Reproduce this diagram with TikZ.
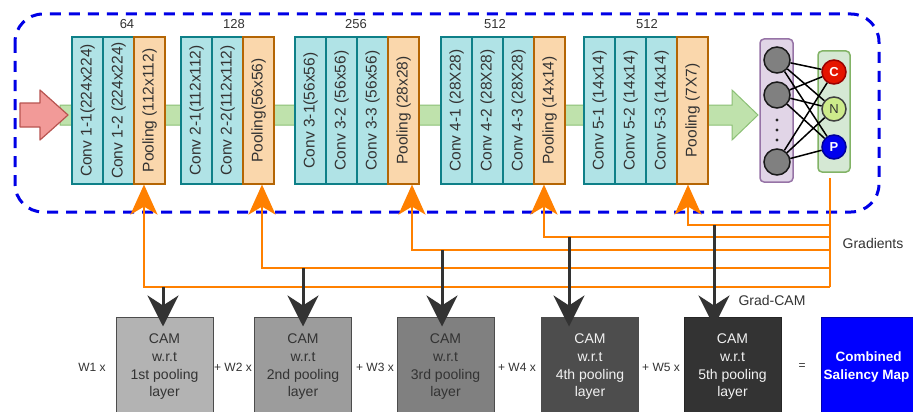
\documentclass[tikz,border=0pt]{standalone}
\usepackage{fontspec}
\setmainfont{Liberation Sans}
\usepackage{graphicx}
\usetikzlibrary{arrows.meta,calc}
\definecolor{convfill}{HTML}{B0E3E6}
\definecolor{convdraw}{HTML}{0E8088}
\definecolor{poolfill}{HTML}{FAD7AC}
\definecolor{pooldraw}{HTML}{B46504}
\definecolor{txt}{HTML}{333333}
\definecolor{gradorange}{HTML}{FF8000}
\definecolor{darkarrow}{HTML}{333333}
\definecolor{dashblue}{HTML}{0000E6}
\definecolor{bandfill}{HTML}{BFE2AC}
\definecolor{banddraw}{HTML}{8CC076}
\definecolor{redfill}{HTML}{F29A98}
\definecolor{reddraw}{HTML}{B85450}
\definecolor{purplefill}{HTML}{E1D5E7}
\definecolor{purpledraw}{HTML}{9673A6}
\definecolor{greenfill}{HTML}{D5E8D4}
\definecolor{greendraw}{HTML}{82B366}
\definecolor{nfill}{HTML}{CDEB8B}
\definecolor{camA}{HTML}{B3B3B3}
\definecolor{camB}{HTML}{9C9C9C}
\definecolor{camC}{HTML}{808080}
\definecolor{camD}{HTML}{4D4D4D}
\definecolor{camE}{HTML}{333333}
\begin{document}
\begin{tikzpicture}[x=1pt,y=-1pt,
  layerbox/.style={draw=convdraw, fill=convfill, line width=1.2pt, minimum width=31pt, minimum height=147pt, inner sep=0pt, text=txt, font=\fontsize{15.5}{15.5}\selectfont},
  poolbox/.style={layerbox, draw=pooldraw, fill=poolfill},
  chanlabel/.style={text=txt, font=\fontsize{13}{13}\selectfont, inner sep=0pt},
  hidnode/.style={circle, draw=black!90, fill=black!50, line width=1.5pt, minimum size=26pt, inner sep=0pt},
  outnode/.style={circle, line width=1.5pt, minimum size=24pt, inner sep=0pt, font=\bfseries\fontsize{13}{13}\selectfont},
  netline/.style={draw=black, line width=1.5pt},
  gradline/.style={draw=gradorange, line width=2pt},
  orangetip/.style={-{Stealth[length=30pt,width=27pt,inset=8pt]}},
  camarrow/.style={draw=darkarrow, line width=3pt, -{Stealth[length=31pt,width=31pt,inset=10pt]}},
  cambox/.style={draw=black!70, line width=1pt, minimum width=97pt, minimum height=100pt, inner sep=0pt, align=center, font=\fontsize{14}{17.7}\selectfont},
  wlabel/.style={text=txt, font=\fontsize{12}{12}\selectfont, inner sep=0pt},
  sidelabel/.style={text=txt, font=\fontsize{14}{14}\selectfont, inner sep=0pt}
]
\clip (0,0) rectangle (913,412);
\fill[white] (0,0) rectangle (913,412);

% dashed frame
\draw[dashblue, line width=3pt, dash pattern=on 11pt off 8pt, rounded corners=28pt] (15,14) rectangle (879,212);

% green flow band with final arrow
\draw[fill=bandfill, draw=banddraw, line width=1pt] (60,105) -- (732,105) -- (732,90) -- (758,115) -- (732,140) -- (732,125) -- (60,125) -- cycle;
% red input arrow
\draw[fill=redfill, draw=reddraw, line width=1.2pt, line join=round] (20,103) -- (40,103) -- (40,90) -- (68,115) -- (40,140) -- (40,127) -- (20,127) -- cycle;

% block 1
\node[layerbox] (c11) at (87.5,110.5) {\rotatebox{90}{Conv 1-1(224x224)}};
\node[layerbox] (c12) at (118.5,110.5) {\rotatebox{90}{Conv 1-2 (224x224)}};
\node[poolbox] (p1) at (149.5,110.5) {\rotatebox{90}{Pooling (112x112)}};
% block 2
\node[layerbox] (c21) at (196.5,110.5) {\rotatebox{90}{Conv 2-1(112x112)}};
\node[layerbox] (c22) at (227.5,110.5) {\rotatebox{90}{Conv 2-2(112x112)}};
\node[poolbox] (p2) at (258.5,110.5) {\rotatebox{90}{Pooling(56x56)}};
% block 3
\node[layerbox] (c31) at (310.5,110.5) {\rotatebox{90}{Conv 3-1(56x56)}};
\node[layerbox] (c32) at (341.5,110.5) {\rotatebox{90}{Conv 3-2 (56x56)}};
\node[layerbox] (c33) at (372.5,110.5) {\rotatebox{90}{Conv 3-3 (56x56)}};
\node[poolbox] (p3) at (403.5,110.5) {\rotatebox{90}{Pooling (28x28)}};
% block 4
\node[layerbox] (c41) at (456.5,110.5) {\rotatebox{90}{Conv 4-1 (28X28)}};
\node[layerbox] (c42) at (487.5,110.5) {\rotatebox{90}{Conv 4-2 (28X28)}};
\node[layerbox] (c43) at (518.5,110.5) {\rotatebox{90}{Conv 4-3 (28X28)}};
\node[poolbox] (p4) at (549.5,110.5) {\rotatebox{90}{Pooling (14x14)}};
% block 5
\node[layerbox] (c51) at (599.5,110.5) {\rotatebox{90}{Conv 5-1 (14x14)}};
\node[layerbox] (c52) at (630.5,110.5) {\rotatebox{90}{Conv 5-2 (14x14)}};
\node[layerbox] (c53) at (661.5,110.5) {\rotatebox{90}{Conv 5-3 (14x14)}};
\node[poolbox] (p5) at (692.5,110.5) {\rotatebox{90}{Pooling (7X7)}};

% channel labels
\node[chanlabel] (l1) at (127,24) {64};
\node[chanlabel] (l2) at (234,24) {128};
\node[chanlabel] (l3) at (356,24) {256};
\node[chanlabel] (l4) at (495,24) {512};
\node[chanlabel] (l5) at (647,24) {512};

% fully connected part
\node[draw=purpledraw, fill=purplefill, line width=1.5pt, rounded corners=4pt, minimum width=33pt, minimum height=143pt, inner sep=0pt] (hidbox) at (776.5,110.5) {};
\node[draw=greendraw, fill=greenfill, line width=1.5pt, rounded corners=4pt, minimum width=32pt, minimum height=121pt, inner sep=0pt] (outbox) at (834,111.5) {};
\node[hidnode] (h1) at (777,60) {};
\node[hidnode] (h2) at (777,95) {};
\node[hidnode] (h3) at (777,162) {};
\fill[black!85] (777,120) circle (1.6pt) (777,130) circle (1.6pt) (777,140) circle (1.6pt);
\node[outnode, draw=red!60!black, fill={rgb,255:red,229;green,20;blue,0}, text=white] (oc) at (834,72) {C};
\node[outnode, draw=black!75, fill=nfill, text=txt, font=\fontsize{13}{13}\selectfont] (on) at (834,109) {N};
\node[outnode, draw=blue!60!black, fill={rgb,255:red,0;green,0;blue,238}, text=white] (op) at (834,147) {P};
\foreach \h in {h1,h2,h3}{\foreach \o in {oc,on,op}{\draw[netline] (\h) -- (\o);}}

% gradient bus
\coordinate (t5) at (830,225);
\coordinate (t4) at (830,237);
\coordinate (t3) at (830,250);
\coordinate (t2) at (830,268);
\coordinate (t1) at (830,287);
\draw[gradline] ($(outbox.south)+(-4,5)$) -- (t1);
\draw[gradline, orangetip] (t1) -| ($(p1.south)+(-5.5,0)$);
\draw[gradline, orangetip] (t2) -| ($(p2.south)+(3.5,0)$);
\draw[gradline, orangetip] (t3) -| ($(p3.south)+(8.5,0)$);
\draw[gradline, orangetip] (t4) -| ($(p4.south)+(-5.5,0)$);
\draw[gradline, orangetip] (t5) -| ($(p5.south)+(-4.5,0)$);

% CAM boxes
\node[cambox, fill=camA, text=txt] (cam1) at (164.5,367) {CAM\\w.r.t\\1st pooling\\layer};
\node[cambox, fill=camB, text=txt] (cam2) at (303,367) {CAM\\w.r.t\\2nd pooling\\layer};
\node[cambox, fill=camC, text=txt] (cam3) at (445.5,367) {CAM\\w.r.t\\3rd pooling\\layer};
\node[cambox, fill=camD, text=white!95!black] (cam4) at (590,367) {CAM\\w.r.t\\4th pooling\\layer};
\node[cambox, fill=camE, draw=black!85, text=white!95!black] (cam5) at (732.5,367) {CAM\\w.r.t\\5th pooling\\layer};
\node[cambox, minimum width=94pt, fill={rgb,255:red,0;green,0;blue,255}, draw=blue!70!black, text=white, font=\bfseries\fontsize{13.5}{17.7}\selectfont] (comb) at (868.5,367) {Combined\\\hspace*{-4pt}Saliency Map};

% Grad-CAM arrows
\coordinate (s1) at (163,287);
\coordinate (s2) at (303,268);
\coordinate (s3) at (442,250);
\coordinate (s4) at (569,237);
\coordinate (s5) at (714,225);
\draw[camarrow] (s1) -- ($(cam1.north -| s1)+(0,10)$);
\draw[camarrow] (s2) -- ($(cam2.north -| s2)+(0,10)$);
\draw[camarrow] (s3) -- ($(cam3.north -| s3)+(0,10)$);
\draw[camarrow] (s4) -- ($(cam4.north -| s4)+(0,10)$);
\draw[camarrow] (s5) -- ($(cam5.north -| s5)+(0,10)$);

% weights
\node[wlabel] (w1) at (92,367) {W1 x};
\node[wlabel] (w2) at (233,367) {+ W2 x};
\node[wlabel] (w3) at (375,367) {+ W3 x};
\node[wlabel] (w4) at (517,367) {+ W4 x};
\node[wlabel] (w5) at (661,367) {+ W5 x};
\node[wlabel] (eq) at (802,367) {=};

\node[sidelabel] (gradlbl) at (873,243) {Gradients};
\node[sidelabel] (gclbl) at (772,300) {Grad-CAM};
\end{tikzpicture}
\end{document}
